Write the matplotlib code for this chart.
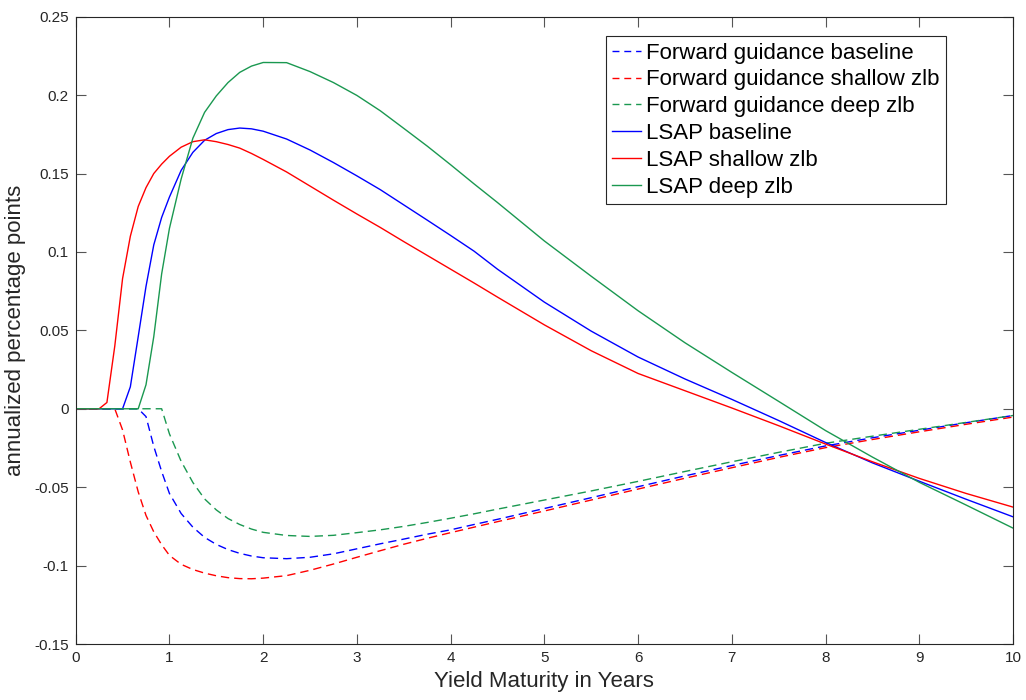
import matplotlib
matplotlib.use("Agg")
import matplotlib.pyplot as plt

plt.rcParams['font.family'] = ['Liberation Sans', 'DejaVu Sans']

# maturity grid (years)
maturity = [0, 0.083, 0.167, 0.25, 0.333, 0.417, 0.5, 0.583, 0.667, 0.75, 0.833, 0.917, 1.0,
            1.125, 1.25, 1.375, 1.5, 1.625, 1.75, 1.875, 2.0,
            2.25, 2.5, 2.75, 3.0, 3.25, 3.5, 3.75, 4.0, 4.25, 4.5,
            5.0, 5.5, 6.0, 6.5, 7.0, 7.5, 8.0, 8.5, 9.0, 9.5, 10.0]

fg_baseline = [0, 0, 0, 0, 0, 0, 0, 0, 0, -0.005, -0.024, -0.040, -0.054,
               -0.0668, -0.0755, -0.082, -0.0865, -0.0898, -0.0922, -0.0939, -0.095,
               -0.0956, -0.0947, -0.0925, -0.0893, -0.0861, -0.0831, -0.0800, -0.0772, -0.0738, -0.0705,
               -0.0636, -0.0567, -0.0497, -0.0428, -0.0362, -0.0298, -0.0237, -0.0185, -0.0137,
               -0.0089, -0.0043]

fg_shallow = [0, 0, 0, 0, 0, 0, -0.0135, -0.034, -0.053, -0.068, -0.0785, -0.0867, -0.0935,
              -0.0992, -0.1025, -0.1048, -0.1065, -0.1077, -0.1083, -0.1084, -0.108,
              -0.1064, -0.1030, -0.0990, -0.0947, -0.0905, -0.0864, -0.0826, -0.079, -0.0755, -0.072,
              -0.0652, -0.0582, -0.0512, -0.0443, -0.0376, -0.031, -0.0248, -0.0196, -0.0147,
              -0.0099, -0.0053]

fg_deep = [0, 0, 0, 0, 0, 0, 0, 0, 0, 0, 0, 0, -0.016,
           -0.0335, -0.047, -0.0575, -0.0645, -0.070, -0.0738, -0.0767, -0.0788,
           -0.0808, -0.0814, -0.0807, -0.0790, -0.0772, -0.0750, -0.0725, -0.0698, -0.067, -0.064,
           -0.0582, -0.0524, -0.0463, -0.0400, -0.0338, -0.0278, -0.022, -0.0175, -0.0131,
           -0.0087, -0.0043]

lsap_baseline = [0, 0, 0, 0, 0, 0, 0, 0.014, 0.046, 0.078, 0.1045, 0.122, 0.135,
                 0.152, 0.1635, 0.1712, 0.1755, 0.178, 0.179, 0.1785, 0.177,
                 0.172, 0.165, 0.157, 0.1485, 0.1397, 0.130, 0.1203, 0.1105, 0.1005, 0.089,
                 0.068, 0.0495, 0.033, 0.019, 0.006, -0.0075, -0.0215, -0.0345, -0.0462,
                 -0.0577, -0.0689]

lsap_shallow = [0, 0, 0, 0, 0.004, 0.040, 0.083, 0.110, 0.129, 0.141, 0.150, 0.156, 0.161,
                0.1668, 0.1703, 0.1715, 0.1703, 0.1685, 0.1662, 0.1628, 0.159,
                0.151, 0.142, 0.133, 0.1242, 0.1156, 0.1066, 0.0978, 0.089, 0.0802, 0.0712,
                0.0535, 0.037, 0.0225, 0.0115, 0.0005, -0.0108, -0.0225, -0.0338, -0.0444,
                -0.054, -0.0627]

lsap_deep = [0, 0, 0, 0, 0, 0, 0, 0, 0, 0.0153, 0.046, 0.086, 0.115,
             0.1465, 0.1725, 0.189, 0.1995, 0.208, 0.2145, 0.2185, 0.2208,
             0.2207, 0.2150, 0.208, 0.1998, 0.190, 0.1788, 0.1675, 0.1556, 0.1434, 0.1315,
             0.107, 0.0845, 0.0625, 0.0421, 0.0232, 0.0047, -0.0139, -0.0308, -0.0469,
             -0.0614, -0.0761]

labels = ['Forward guidance baseline', 'Forward guidance shallow zlb', 'Forward guidance deep zlb',
          'LSAP baseline', 'LSAP shallow zlb', 'LSAP deep zlb']
series = [fg_baseline, fg_shallow, fg_deep, lsap_baseline, lsap_shallow, lsap_deep]
colors = ['#0000ff', '#ff0000', '#1a9850', '#0000ff', '#ff0000', '#1a9850']
styles = ['--', '--', '--', '-', '-', '-']

fig = plt.figure(figsize=(10.26, 7.0), dpi=100)
W, H = 1026, 700
left, right, top, bottom = 75.7, 1013, 16.7, 644
ax = fig.add_axes([left / W, 1 - bottom / H, (right - left) / W, (bottom - top) / H])

for ys, lab, c, ls in zip(series, labels, colors, styles):
    line, = ax.plot(maturity, ys, color=c, linestyle=ls, linewidth=1.0, label=lab)
    if ls == '--':
        line.set_dashes((6, 3.6))

ax.set_xlim(0, 10)
ax.set_ylim(-0.15, 0.25)
ax.set_xticks(range(0, 11))
ax.set_yticks([-0.15, -0.1, -0.05, 0, 0.05, 0.1, 0.15, 0.2, 0.25])
ax.set_yticklabels(['-0.15', '-0.1', '-0.05', '0', '0.05', '0.1', '0.15', '0.2', '0.25'])
ax.tick_params(direction='in', length=7, width=0.8, colors='#555555', labelcolor='#262626',
               labelsize=11, top=True, right=True, pad=5)
for s in ax.spines.values():
    s.set_color('#262626')
    s.set_linewidth(0.8)

ax.set_xlabel('Yield Maturity in Years', fontsize=16, color='#262626', labelpad=4)
ax.set_ylabel('annualized percentage points', fontsize=16, color='#262626', labelpad=6)

leg = ax.legend(loc='upper right', bbox_to_anchor=(946 / W, 1 - 36 / H),
                bbox_transform=fig.transFigure, borderaxespad=0, fontsize=16,
                frameon=True, fancybox=False, edgecolor='#262626', framealpha=1,
                handlelength=1.3, handletextpad=0.2, labelspacing=0.26, borderpad=0.3)
leg.get_frame().set_linewidth(0.8)
for h in leg.get_lines():
    if h.get_linestyle() == '--':
        h.set_dashes((5, 3.5))

fig.savefig('out.png', dpi=100)
